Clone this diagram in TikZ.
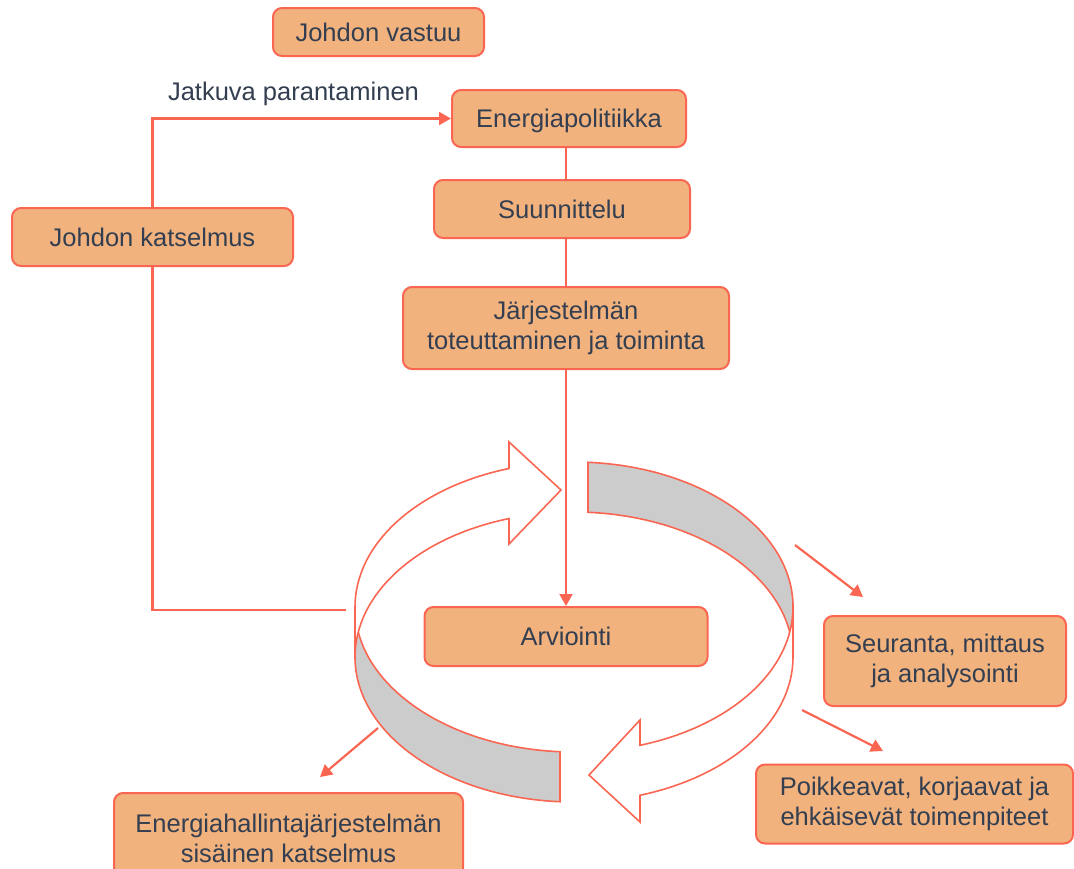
\documentclass[tikz,border=0pt]{standalone}
\usepackage{fontspec}
\setmainfont{Liberation Sans}
\usetikzlibrary{arrows.meta}

\definecolor{oranssi}{RGB}{241,178,126}
\definecolor{reuna}{RGB}{250,102,82}
\definecolor{teksti}{RGB}{51,63,80}
\definecolor{harmaa}{RGB}{204,204,204}

\tikzset{
  laatikko/.style={draw=reuna, fill=oranssi, line width=2pt, rounded corners=9pt,
    text=teksti, inner sep=0pt, font=\fontsize{25.5}{30}\selectfont,
    text height=18pt, text depth=-3pt},
  kaksirivi/.style={draw=reuna, fill=oranssi, line width=2pt, rounded corners=9pt,
    text=teksti, inner sep=0pt, align=center, font=\fontsize{25.5}{30}\selectfont},
  viiva/.style={draw=reuna, line width=2.2pt},
  karki/.style={-{Triangle[length=12pt,width=13pt]}},
  renkas/.style={draw=reuna, line width=1.6pt, line join=miter}
}

\begin{document}
\begin{tikzpicture}[x=1pt,y=-1pt]
\useasboundingbox (0,0) rectangle (1074,868);
% laatikot
\node[laatikko, minimum width=211pt, minimum height=48pt] (vastuu) at (378.5,32) {Johdon vastuu};
\node[text=teksti, anchor=base, font=\fontsize{25.5}{30}\selectfont] (jatkuva) at (293.5,100) {Jatkuva parantaminen};
\node[laatikko, minimum width=234pt, minimum height=57pt] (epol) at (569,118.5) {Energiapolitiikka};
\node[laatikko, minimum width=256pt, minimum height=58pt] (suun) at (562,209) {Suunnittelu};
\node[laatikko, minimum width=281pt, minimum height=58pt] (katselmus) at (152.5,237) {Johdon katselmus};
\node[kaksirivi, minimum width=326pt, minimum height=82pt] (jarj) at (566,328) {Järjestelmän\\toteuttaminen ja toiminta};
\node[laatikko, minimum width=283pt, minimum height=59pt] (arv) at (566,636.5) {Arviointi};
\node[kaksirivi, minimum width=242pt, minimum height=90pt] (seur) at (945,661) {Seuranta, mittaus\\ja analysointi};
\node[kaksirivi, minimum width=317pt, minimum height=79pt] (poik) at (914.5,804) {Poikkeavat, korjaavat ja\\ehkäisevät toimenpiteet};
\node[kaksirivi, minimum width=349pt, minimum height=90pt] (sis) at (288.5,838) {Energiahallintajärjestelmän\\sisäinen katselmus};

% rengasnuoli
\draw[renkas, fill=harmaa] (588,462.3) arc[start angle=-86.34, end angle=0, x radius=219, y radius=145]
  -- (793,657) arc[start angle=0, end angle=-86.34, x radius=219, y radius=145] -- cycle;
\draw[renkas, fill=white] (640,745.3) arc[start angle=72.46, end angle=0, x radius=219, y radius=145]
  -- (793,657) arc[start angle=0, end angle=72.46, x radius=219, y radius=145]
  -- (640,822) -- (589,775) -- (640,720) -- cycle;
\draw[renkas, fill=harmaa] (560,751.7) arc[start angle=93.66, end angle=180, x radius=219, y radius=145]
  -- (355,657) arc[start angle=180, end angle=93.66, x radius=219, y radius=145] -- cycle;
\draw[renkas, fill=white] (509,468.5) arc[start angle=-107.27, end angle=-180, x radius=219, y radius=145]
  -- (355,657) arc[start angle=-180, end angle=-107.27, x radius=219, y radius=145]
  -- (509,544) -- (561,490) -- (509,442) -- cycle;

% yhteydet
\coordinate (kierto) at (346,610);
\coordinate (seurA) at (795,545);
\coordinate (seurB) at (863,597);
\coordinate (poikA) at (802,710);
\coordinate (poikB) at (883,751);
\coordinate (sisA) at (378,728);
\coordinate (sisB) at (320,777);
\draw[viiva] (epol.south -| arv) -- (suun.north -| arv);
\draw[viiva] (suun.south -| arv) -- (jarj.north);
\draw[viiva, karki] (jarj.south) -- (arv.north);
\draw[viiva, karki] (katselmus.north) |- (epol.west);
\draw[viiva] (katselmus.south) |- (kierto);
\draw[viiva, karki] (seurA) -- (seurB);
\draw[viiva, karki] (poikA) -- (poikB);
\draw[viiva, karki] (sisA) -- (sisB);
\end{tikzpicture}
\end{document}
